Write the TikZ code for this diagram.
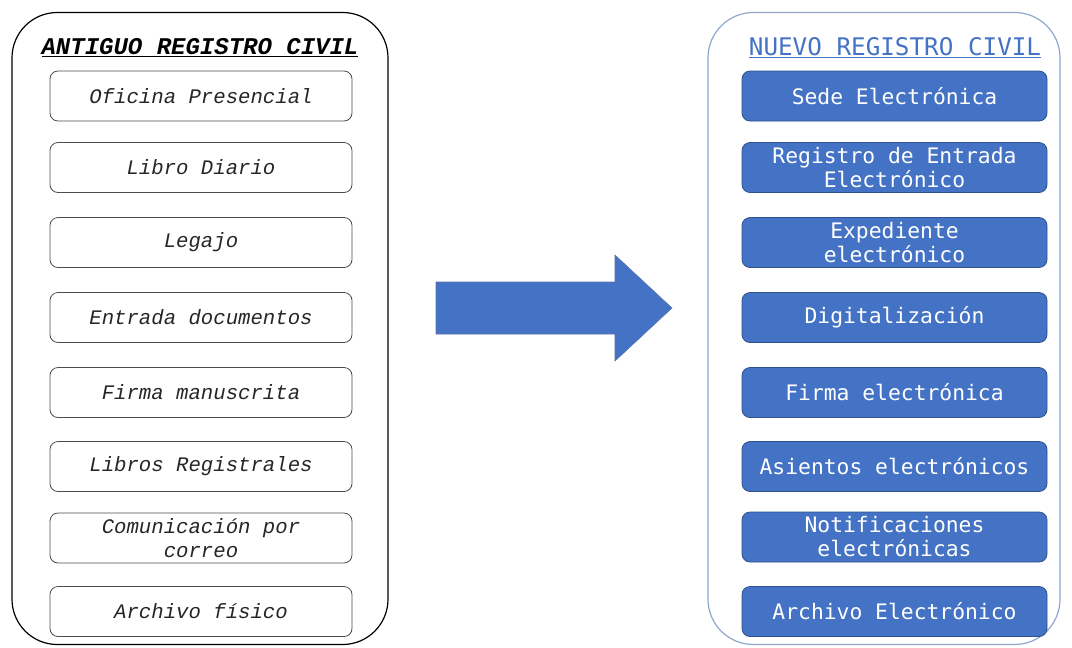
\documentclass[tikz,border=0pt]{standalone}
\usepackage{fontspec}
\usepackage{tikz}
\usetikzlibrary{positioning,calc}
\newfontfamily\antiguofont{Liberation Mono}
\newfontfamily\nuevofont{DejaVu Sans Mono}
\definecolor{nuevoblue}{HTML}{4472C4}
\definecolor{nuevoedge}{HTML}{2F528F}
\definecolor{nuevoframe}{HTML}{8FA6CF}

\tikzset{
  oldframe/.style={draw=black, line width=0.9pt, rounded corners=34pt,
    minimum width=282pt, minimum height=474pt},
  newframe/.style={draw=nuevoframe, line width=0.9pt, rounded corners=34pt,
    minimum width=264pt, minimum height=474pt},
  oldbox/.style={draw=black!70, line width=0.6pt, rounded corners=6pt,
    minimum width=226.5pt, minimum height=37.5pt, align=center,
    text=black!85, font=\antiguofont\itshape\fontsize{15.5}{18}\selectfont},
  newbox/.style={draw=nuevoedge, fill=nuevoblue, text=white, line width=0.6pt,
    rounded corners=6pt, minimum width=228.75pt, minimum height=37.5pt,
    align=center, font=\nuevofont\fontsize{16}{18}\selectfont},
}

\begin{document}
\begin{tikzpicture}[x=0.75pt,y=-0.75pt]
  \useasboundingbox (0,0) rectangle (1072,647);

  % marcos
  \node[oldframe] (oldframe) at (200,328.5) {};
  \node[newframe] (newframe) at (884,328.5) {};

  % titulos
  \node (oldtitle) at (200,48)
   {\antiguofont\bfseries\itshape\fontsize{18}{20}\selectfont\underline{ANTIGUO REGISTRO CIVIL}};
  \node[text=nuevoblue] (newtitle) at (895,48)
   {\nuevofont\fontsize{18.2}{20}\selectfont\underline{NUEVO REGISTRO CIVIL}};

  % registro antiguo
  \node[oldbox] (old1) at (201,96) {Oficina Presencial};
  \node[oldbox] (old2) at (201,167.5) {Libro Diario};
  \node[oldbox] (old3) at (201,242.5) {Legajo};
  \node[oldbox] (old4) at (201,317.5) {Entrada documentos};
  \node[oldbox] (old5) at (201,392.5) {Firma manuscrita};
  \node[oldbox] (old6) at (201,466.5) {Libros Registrales};
  \node[oldbox] (old7) at (201,538) {Comunicación por\\correo};
  \node[oldbox] (old8) at (201,611.5) {Archivo físico};

  % registro nuevo
  \node[newbox] (new1) at (894.5,96) {Sede Electrónica};
  \node[newbox] (new2) at (894.5,167.5) {Registro de Entrada\\Electrónico};
  \node[newbox] (new3) at (894.5,242.5) {Expediente\\electrónico};
  \node[newbox] (new4) at (894.5,317.5) {Digitalización};
  \node[newbox] (new5) at (894.5,392.5) {Firma electrónica};
  \node[newbox] (new6) at (894.5,466.5) {Asientos electrónicos};
  \node[newbox] (new7) at (894.5,537) {Notificaciones\\electrónicas};
  \node[newbox] (new8) at (894.5,611.5) {Archivo Electrónico};

  % flecha
  \draw[fill=nuevoblue, draw=nuevoedge!80, line width=0.4pt]
    (436,282) -- (615,282) -- (615,255) -- (672,308)
    -- (615,361) -- (615,334) -- (436,334) -- cycle;
\end{tikzpicture}
\end{document}
